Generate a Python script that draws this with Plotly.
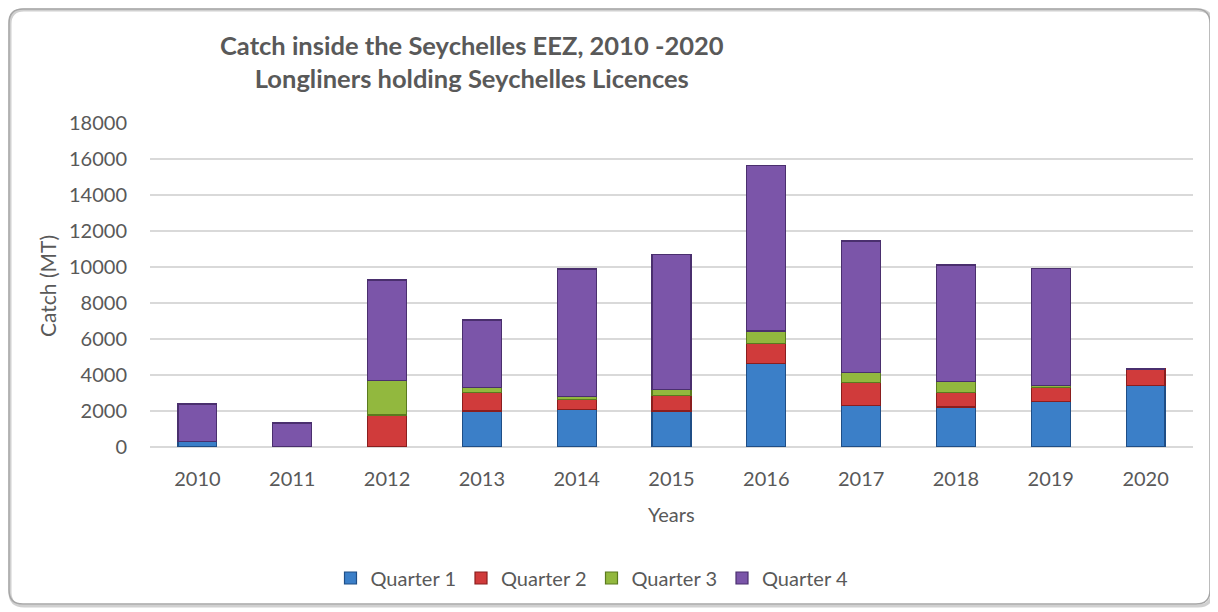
import plotly.graph_objects as go

years = ["2010", "2011", "2012", "2013", "2014", "2015", "2016", "2017", "2018", "2019", "2020"]
quarter1 = [300, 0, 0, 2000, 2090, 2000, 4630, 2300, 2220, 2520, 3420]
quarter2 = [0, 0, 1780, 1040, 560, 850, 1130, 1270, 800, 790, 910]
quarter3 = [0, 0, 1910, 260, 150, 350, 680, 560, 610, 100, 0]
quarter4 = [2090, 1330, 5590, 3760, 7090, 7480, 9210, 7310, 6480, 6520, 0]

series = [
    ("Quarter 1", quarter1, "#3B7FC8", "#1F4E86"),
    ("Quarter 2", quarter2, "#D03B3B", "#8A1E1E"),
    ("Quarter 3", quarter3, "#92B83E", "#5A7A1F"),
    ("Quarter 4", quarter4, "#7B55A9", "#4A2F6E"),
]

FONT = "Lato"
TXT = "#595959"

fig = go.Figure()
for name, vals, col, edge in series:
    fig.add_trace(go.Bar(
        x=years, y=vals, name=name,
        marker=dict(color=col, line=dict(color=edge, width=1.2)),
    ))

# page offset (body margin) compensation
OFF = 8
W, H = 1218 - OFF, 612 - OFF
L, T = 150 - OFF, 123 - OFF
R = W - (1193 - OFF)
B = H - (447 - OFF)
pw, ph = W - L - R, H - T - B

def px(x):  # screen pixel -> paper
    return (x - OFF - L) / pw

def py(y):
    return (H - B - (y - OFF)) / ph

def rounded_rect(x0, y0, x1, y1, r):
    a, b, c, d = px(x0), px(x1), py(y0), py(y1)  # left, right, top, bottom
    rx, ry = r / pw, r / ph
    return (f"M {a+rx},{c} L {b-rx},{c} Q {b},{c} {b},{c-ry} "
            f"L {b},{d+ry} Q {b},{d} {b-rx},{d} L {a+rx},{d} Q {a},{d} {a},{d+ry} "
            f"L {a},{c-ry} Q {a},{c} {a+rx},{c} Z")

fig.update_layout(
    width=W, height=H,
    barmode="stack", bargap=0.59,
    paper_bgcolor="white", plot_bgcolor="white",
    margin=dict(l=L, r=R, t=T, b=B, autoexpand=False),
    font=dict(family=FONT, size=20, color=TXT),
    showlegend=True,
    legend=dict(
        orientation="h", x=px(592), xanchor="center", y=py(578), yanchor="middle",
        font=dict(size=20, color=TXT), traceorder="normal",
        itemwidth=30, bgcolor="rgba(0,0,0,0)",
    ),
    xaxis=dict(
        showgrid=False, showline=False, ticks="",
        tickfont=dict(size=20, color=TXT), ticklabelstandoff=18,
    ),
    yaxis=dict(
        range=[0, 18000], dtick=2000, showgrid=True, gridcolor="#D9D9D9", gridwidth=1.5,
        zeroline=True, zerolinecolor="#D9D9D9", zerolinewidth=1.5,
        showline=False, ticks="", tickfont=dict(size=20, color=TXT),
        ticklabelstandoff=22, tickformat="d",
    ),
    annotations=[
        dict(text="<b>Catch inside the Seychelles EEZ, 2010 -2020<br>Longliners holding Seychelles Licences</b>",
             x=px(472), y=py(61), xref="paper", yref="paper", xanchor="center", yanchor="middle",
             showarrow=False, font=dict(size=25.5, color=TXT, family=FONT)),
        dict(text="Catch (MT)", x=px(47), y=py(286), xref="paper", yref="paper",
             xanchor="center", yanchor="middle", textangle=-90, showarrow=False,
             font=dict(size=21, color=TXT, family=FONT)),
        dict(text="Years", x=px(671), y=py(514), xref="paper", yref="paper",
             xanchor="center", yanchor="middle", showarrow=False,
             font=dict(size=20, color=TXT, family=FONT)),
    ],
    shapes=[
        dict(type="path", xref="paper", yref="paper",
             path=rounded_rect(10, 10, 1212, 606, 14),
             line=dict(color="#D0D0D0", width=3), fillcolor="rgba(0,0,0,0)", layer="below"),
        dict(type="path", xref="paper", yref="paper",
             path=rounded_rect(9, 9, 1210, 604, 14),
             line=dict(color="#A6A6A6", width=1.5), fillcolor="rgba(0,0,0,0)", layer="below"),
    ],
)

fig.write_html("out.html")
